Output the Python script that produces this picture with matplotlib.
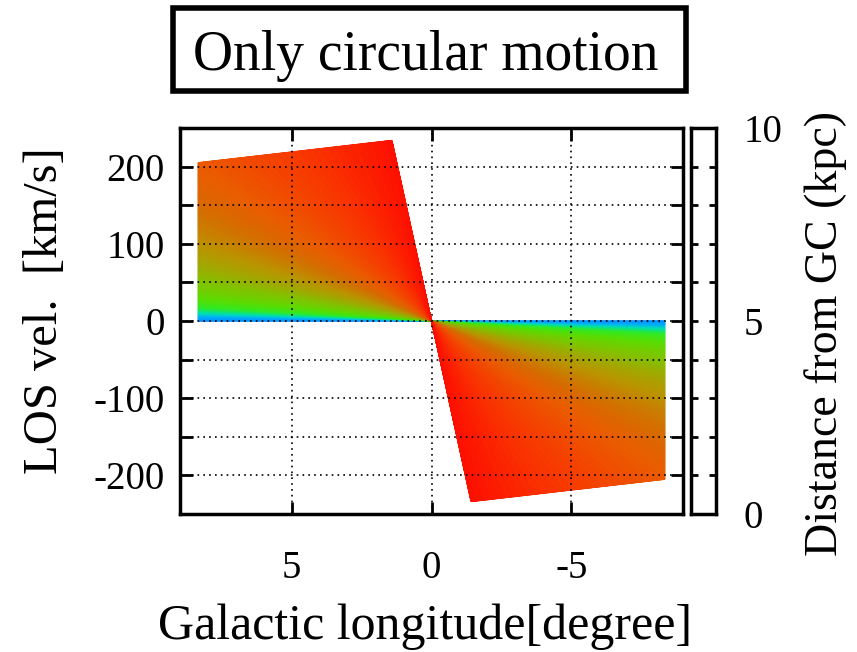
import numpy as np
import matplotlib.pyplot as plt
from matplotlib.colors import LinearSegmentedColormap
from matplotlib.patches import Rectangle

# model parameters
R0 = 8.5        # Sun - GC distance (kpc)
V0 = 240.0      # flat rotation speed (km/s)
Rc = 0.21       # radius of the solid-body core (kpc)
l_max = 8.35    # longitude extent of the model (deg)

# palette: distance from GC (kpc) -> colour
cmap_R = [0.0, 0.6, 1.24, 1.6, 2.2, 3.3, 4.5, 5.6, 6.5, 7.3, 8.5, 10.0]
cmap_rgb = [(255, 0, 0), (250, 50, 0), (235, 92, 0), (215, 108, 0),
            (188, 148, 0), (135, 192, 0), (95, 220, 0), (50, 235, 40),
            (0, 225, 180), (0, 175, 255), (0, 140, 255), (0, 60, 255)]

y_ticks = [-200, -100, 0, 100, 200]
x_ticks = [5, 0, -5]
cb_ticks = [0, 5, 10]

plt.rcParams['font.family'] = ['Liberation Serif', 'DejaVu Serif']
plt.rcParams['axes.unicode_minus'] = False

cmap = LinearSegmentedColormap.from_list(
    "dist", [(r / 10.0, tuple(c / 255 for c in rgb)) for r, rgb in zip(cmap_R, cmap_rgb)])

# l-v mesh for circular rotation
l = np.linspace(1e-3, l_max, 400)
t = np.linspace(0, 1, 300)
sl = np.sin(np.radians(l))
vmax = V0 * sl * (R0 / np.maximum(R0 * sl, Rc) - 1)
L, T = np.meshgrid(l, t)
V = T * vmax[None, :]
R = R0 / (1 + V / (V0 * np.sin(np.radians(L))))

W, H = 857, 652
fig = plt.figure(figsize=(W / 100, H / 100), dpi=100)
ax = fig.add_axes([180 / W, 138 / H, 503 / W, 386 / H])

ax.pcolormesh(L, V, R, cmap=cmap, vmin=0, vmax=10, shading='gouraud', zorder=1)
ax.pcolormesh(-L, -V, R, cmap=cmap, vmin=0, vmax=10, shading='gouraud', zorder=1)

ax.set_xlim(9, -9)
ax.set_ylim(-250, 250)
ax.set_xticks(x_ticks)
ax.set_yticks(y_ticks)
ax.set_yticks([-150, -50, 50, 150], minor=True)
ax.tick_params(direction='in', top=True, right=True, width=2, length=9,
               labelsize=28, pad=11)
ax.tick_params(which='minor', direction='in', left=True, right=True, width=2, length=9)
ax.tick_params(axis='x', pad=26)
ax.grid(True, which='both', axis='y', color='black', linestyle=(0, (1, 2.5)), lw=1.2, zorder=3)
ax.grid(True, which='major', axis='x', color='black', linestyle=(0, (1, 2.5)), lw=1.2, zorder=3)
ax.set_axisbelow(False)
for s in ax.spines.values():
    s.set_linewidth(2.5)

# empty colour bar frame
cax = fig.add_axes([691 / W, 138 / H, 25 / W, 386 / H])
cax.set_xticks([])
cax.set_ylim(0, 10)
cax.set_yticks(cb_ticks)
cax.set_yticks(np.arange(1, 10), minor=True)
cax.yaxis.tick_right()
cax.tick_params(axis='y', which='both', direction='in', left=True, right=True,
                width=2, length=5, labelsize=28, pad=20)
for s in cax.spines.values():
    s.set_linewidth(2.5)

# axis labels
fig.text(425 / W, 1 - 627 / H, "Galactic longitude[degree]", fontsize=36,
         ha='center', va='center')
fig.text(45 / W, 1 - 311 / H, "LOS vel.  [km/s]", fontsize=35, rotation=90,
         ha='center', va='center')
fig.text(826 / W, 1 - 333 / H, "Distance from GC (kpc)", fontsize=33, rotation=90,
         ha='center', va='center')

# boxed title
fig.patches.append(Rectangle((173 / W, 1 - 91 / H), 513 / W, 83 / H,
                             transform=fig.transFigure, fill=False, lw=4, ec='black'))
fig.text(426 / W, 1 - 56 / H, "Only circular motion", fontsize=40,
         ha='center', va='center')

fig.savefig("out.png", dpi=100)
